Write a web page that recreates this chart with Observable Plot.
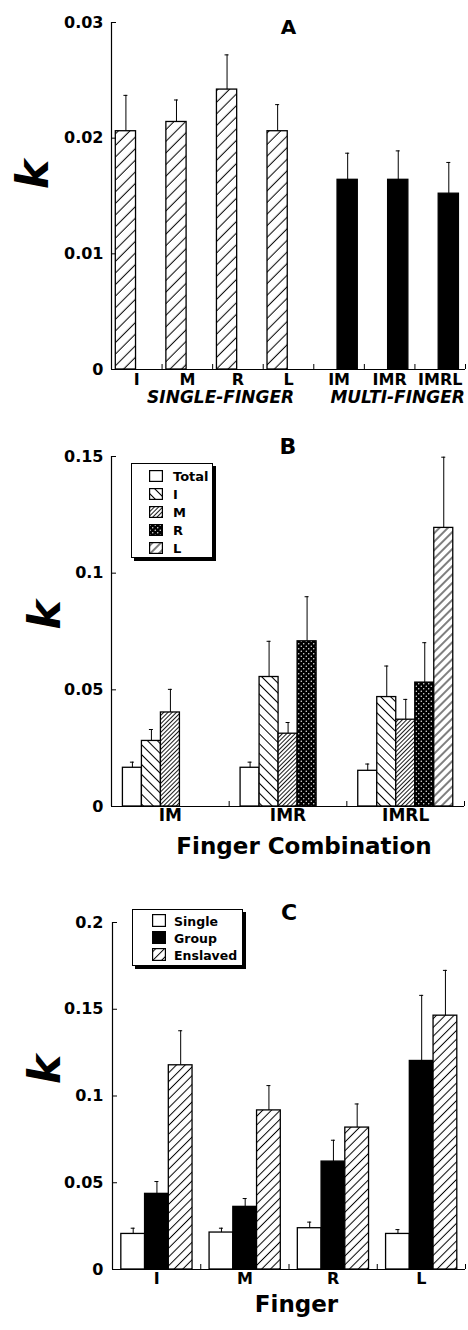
<!DOCTYPE html>
<html>
<head>
<meta charset="utf-8">
<script src="https://cdn.jsdelivr.net/npm/d3@7"></script>
<script src="https://cdn.jsdelivr.net/npm/@observablehq/plot@0.6"></script>
<style>
  html, body { margin: 0; padding: 0; background: #fff; }
  body { width: 468px; height: 1330px; position: relative; overflow: hidden;
         font-family: "DejaVu Sans", "Liberation Sans", sans-serif; }
  .panel { position: absolute; left: 0; }
  .panel svg { overflow: visible; display: block; }
  .legend { position: absolute; box-sizing: border-box; background: #fff; border: 1.3px solid #000;
            box-shadow: 3px 3px 0 #000; overflow: hidden; font-weight: bold; color: #000; }
  .legend svg { position: absolute; overflow: visible; }
  .legend span { position: absolute; line-height: 1; white-space: nowrap; }
</style>
</head>
<body>
<svg width="0" height="0" style="position:absolute;left:0;top:0">
  <defs>
    <pattern id="hatchA" patternUnits="userSpaceOnUse" width="8.2" height="8.2" patternTransform="rotate(45)">
      <rect width="8.2" height="8.2" fill="#fff"/><line x1="4" y1="0" x2="4" y2="8.2" stroke="#000" stroke-width="1"/>
    </pattern>
    <pattern id="hatchBI" patternUnits="userSpaceOnUse" width="7" height="7" patternTransform="rotate(-45)">
      <rect width="7" height="7" fill="#fff"/><line x1="3.5" y1="0" x2="3.5" y2="7" stroke="#000" stroke-width="1"/>
    </pattern>
    <pattern id="hatchBM" patternUnits="userSpaceOnUse" width="3" height="3" patternTransform="rotate(45)">
      <rect width="3" height="3" fill="#fff"/><line x1="1.5" y1="0" x2="1.5" y2="3" stroke="#000" stroke-width="0.9"/>
    </pattern>
    <pattern id="dotsBR" patternUnits="userSpaceOnUse" width="5" height="5">
      <rect width="5" height="5" fill="#000"/>
      <circle cx="1.25" cy="1.25" r="0.7" fill="#fff"/><circle cx="3.75" cy="3.75" r="0.7" fill="#fff"/>
    </pattern>
    <pattern id="hatchBL" patternUnits="userSpaceOnUse" width="6" height="6" patternTransform="rotate(45)">
      <rect width="6" height="6" fill="#fff"/><line x1="3" y1="0" x2="3" y2="6" stroke="#000" stroke-width="1"/>
    </pattern>
    <pattern id="hatchC" patternUnits="userSpaceOnUse" width="6.2" height="6.2" patternTransform="rotate(45)">
      <rect width="6.2" height="6.2" fill="#fff"/><line x1="3.1" y1="0" x2="3.1" y2="6.2" stroke="#000" stroke-width="1"/>
    </pattern>
  </defs>
</svg>

<div class="panel" id="pA" style="top:0px"></div>
<div class="panel" id="pB" style="top:420px"></div>
<div class="panel" id="pC" style="top:860px"></div>

<script>
// ---------------- DATA ----------------
// Panel A
const aCategories = ["I", "M", "R", "L", "IM", "IMR", "IMRL"];
const aKind = ["single", "single", "single", "single", "multi", "multi", "multi"];
const aMeans = [0.0206, 0.0214, 0.0242, 0.0206, 0.0164, 0.0164, 0.0152];
const aSD = [0.0031, 0.0019, 0.0030, 0.0023, 0.0023, 0.0025, 0.0027];
const aGroupLabels = ["SINGLE-FINGER", "MULTI-FINGER"];
const aTicks = [0, 0.01, 0.02, 0.03];
const aTickLabels = ["0", "0.01", "0.02", "0.03"];

// Panel B
const bCombinations = ["IM", "IMR", "IMRL"];
const bSeries = ["Total", "I", "M", "R", "L"];
const bTotal = [0.0166, 0.0166, 0.0153];
const bTotalSD = [0.0024, 0.0024, 0.0029];
const bI = [0.0281, 0.0555, 0.0469];
const bISD = [0.0049, 0.0153, 0.0133];
const bM = [0.0403, 0.0312, 0.0372];
const bMSD = [0.0099, 0.0048, 0.0087];
const bR = [null, 0.0708, 0.0531];
const bRSD = [null, 0.0191, 0.0171];
const bL = [null, null, 0.1194];
const bLSD = [null, null, 0.0303];
const bTicks = [0, 0.05, 0.1, 0.15];
const bTickLabels = ["0", "0.05", "0.1", "0.15"];

// Panel C
const cFingers = ["I", "M", "R", "L"];
const cSeries = ["Single", "Group", "Enslaved"];
const cSingle = [0.0205, 0.0213, 0.0238, 0.0205];
const cSingleSD = [0.0033, 0.0025, 0.0035, 0.0025];
const cGroup = [0.0436, 0.0361, 0.0622, 0.1202];
const cGroupSD = [0.0071, 0.0048, 0.0123, 0.0378];
const cEnslaved = [0.1177, 0.0917, 0.0818, 0.1463];
const cEnslavedSD = [0.0199, 0.0143, 0.0136, 0.0261];
const cTicks = [0, 0.05, 0.1, 0.15, 0.2];
const cTickLabels = ["0", "0.05", "0.1", "0.15", "0.2"];

// ---------------- STYLE ----------------
const FONT = "'DejaVu Sans', 'Liberation Sans', sans-serif";
const baseStyle = {fontFamily: FONT, fontSize: "16px", fontWeight: "bold", background: "transparent", overflow: "visible", color: "#000"};
const bFills = {Total: "#fff", I: "url(#hatchBI)", M: "url(#hatchBM)", R: "url(#dotsBR)", L: "url(#hatchBL)"};
const cFills = {Single: "#fff", Group: "#000", Enslaved: "url(#hatchC)"};

function frameMarks({nx, ticks, tickLabels, innerW, innerH, tickPad}) {
  return [
    Plot.ruleY([0], {stroke: "#000", strokeWidth: 1.2}),
    Plot.ruleX([0], {stroke: "#000", strokeWidth: 1.2}),
    Plot.tickX(d3.range(1, nx + 1), {x: d => d, insetTop: innerH - 5, stroke: "#000", strokeWidth: 1}),
    Plot.tickY(ticks, {y: d => d, insetRight: innerW - 5, stroke: "#000", strokeWidth: 1}),
    Plot.axisY({ticks, tickFormat: d => tickLabels[ticks.indexOf(d)], tickSize: 0, tickPadding: tickPad, label: null, fontSize: 16})
  ];
}
function errorMarks(rows, cx) {
  return [
    Plot.ruleX(rows, {x: cx, y1: "mean", y2: d => d.mean + d.sd, stroke: "#000", strokeWidth: 1}),
    Plot.ruleY(rows, {y: d => d.mean + d.sd, x1: cx, x2: cx, insetLeft: -2, insetRight: -2, stroke: "#000", strokeWidth: 1})
  ];
}

// ---------------- PANEL A ----------------
{
  const rows = aCategories.map((c, i) => ({i, cat: c, kind: aKind[i], mean: aMeans[i], sd: aSD[i]}));
  const W = 0.40;
  const x1 = d => d.i + (d.kind === "single" ? 0.085 : 0.47);
  const cx = d => x1(d) + W / 2;
  const M = {top: 22, bottom: 51, left: 111, right: 3}, H = 420, WID = 468;
  const chart = Plot.plot({
    width: WID, height: H, marginTop: M.top, marginBottom: M.bottom, marginLeft: M.left, marginRight: M.right,
    x: {domain: [0, 7], axis: null}, y: {domain: [0, 0.03], axis: null},
    style: baseStyle,
    marks: [
      Plot.rect(rows.filter(d => d.kind === "single"), {x1, x2: d => x1(d) + W, y1: () => 0, y2: "mean", fill: "url(#hatchA)", stroke: "#000", strokeWidth: 1.3}),
      Plot.rect(rows.filter(d => d.kind === "multi"), {x1, x2: d => x1(d) + W, y1: () => 0, y2: "mean", fill: "#000", stroke: "#000", strokeWidth: 1.3}),
      ...errorMarks(rows, cx),
      ...frameMarks({nx: 7, ticks: aTicks, tickLabels: aTickLabels, innerW: WID - M.left - M.right, innerH: H - M.top - M.bottom, tickPad: 8}),
      Plot.text(aCategories, {x: (d, i) => i + 0.5, text: d => d, frameAnchor: "bottom", dy: 15, fontSize: 16}),
      Plot.text(aGroupLabels, {x: (d, i) => (i === 0 ? 2 : 5.5), text: d => d, frameAnchor: "bottom", dy: 33, dx: 8, fontSize: 17, fontStyle: "italic"}),
      Plot.text(["A"], {text: d => d, frameAnchor: "top", dy: -3, fontSize: 20}),
      Plot.text(["k"], {text: d => d, frameAnchor: "left", dx: -78, dy: -7, rotate: -90, fontSize: 44, fontStyle: "italic"})
    ]
  });
  document.getElementById("pA").appendChild(chart);
}

// ---------------- PANEL B ----------------
{
  const means = {Total: bTotal, I: bI, M: bM, R: bR, L: bL};
  const sds = {Total: bTotalSD, I: bISD, M: bMSD, R: bRSD, L: bLSD};
  const rows = [];
  bCombinations.forEach((g, gi) => bSeries.forEach((s, si) => {
    if (means[s][gi] != null) rows.push({gi, si, series: s, mean: means[s][gi], sd: sds[s][gi]});
  }));
  const W = 0.1615;
  const x1 = d => d.gi + 0.097 + d.si * W;
  const cx = d => x1(d) + W / 2;
  const M = {top: 36, bottom: 54, left: 111, right: 4}, H = 440, WID = 468;
  const chart = Plot.plot({
    width: WID, height: H, marginTop: M.top, marginBottom: M.bottom, marginLeft: M.left, marginRight: M.right,
    x: {domain: [0, 3], axis: null}, y: {domain: [0, 0.15], axis: null},
    style: baseStyle,
    marks: [
      ...bSeries.map(s => Plot.rect(rows.filter(d => d.series === s), {x1, x2: d => x1(d) + W, y1: () => 0, y2: "mean", fill: bFills[s], stroke: "#000", strokeWidth: 1.3})),
      ...errorMarks(rows, cx),
      ...frameMarks({nx: 3, ticks: bTicks, tickLabels: bTickLabels, innerW: WID - M.left - M.right, innerH: H - M.top - M.bottom, tickPad: 8}),
      Plot.text(bCombinations, {x: (d, i) => i + 0.5, text: d => d, frameAnchor: "bottom", dy: 14, fontSize: 17}),
      Plot.text(["Finger Combination"], {text: d => d, frameAnchor: "bottom", dy: 47, dx: 16, fontSize: 23}),
      Plot.text(["B"], {text: d => d, frameAnchor: "top", dy: -18, fontSize: 22}),
      Plot.text(["k"], {text: d => d, frameAnchor: "left", dx: -66, dy: -2, rotate: -90, fontSize: 44, fontStyle: "italic"})
    ]
  });
  document.getElementById("pB").appendChild(chart);
}

// ---------------- PANEL C ----------------
{
  const means = {Single: cSingle, Group: cGroup, Enslaved: cEnslaved};
  const sds = {Single: cSingleSD, Group: cGroupSD, Enslaved: cEnslavedSD};
  const rows = [];
  cFingers.forEach((g, gi) => cSeries.forEach((s, si) => {
    rows.push({gi, si, series: s, mean: means[s][gi], sd: sds[s][gi]});
  }));
  const W = 0.269;
  const x1 = d => d.gi + 0.1 + d.si * W;
  const cx = d => x1(d) + W / 2;
  const M = {top: 62, bottom: 61, left: 112, right: 3}, H = 470, WID = 468;
  const chart = Plot.plot({
    width: WID, height: H, marginTop: M.top, marginBottom: M.bottom, marginLeft: M.left, marginRight: M.right,
    x: {domain: [0, 4], axis: null}, y: {domain: [0, 0.2], axis: null},
    style: baseStyle,
    marks: [
      ...cSeries.map(s => Plot.rect(rows.filter(d => d.series === s), {x1, x2: d => x1(d) + W, y1: () => 0, y2: "mean", fill: cFills[s], stroke: "#000", strokeWidth: 1.3})),
      ...errorMarks(rows, cx),
      ...frameMarks({nx: 4, ticks: cTicks, tickLabels: cTickLabels, innerW: WID - M.left - M.right, innerH: H - M.top - M.bottom, tickPad: 9}),
      Plot.text(cFingers, {x: (d, i) => i + 0.5, text: d => d, frameAnchor: "bottom", dy: 14.5, fontSize: 16}),
      Plot.text(["Finger"], {text: d => d, frameAnchor: "bottom", dy: 42, dx: 7.5, fontSize: 23}),
      Plot.text(["C"], {text: d => d, frameAnchor: "top", dy: -18, fontSize: 22}),
      Plot.text(["k"], {text: d => d, frameAnchor: "left", dx: -67, dy: -12, rotate: -90, fontSize: 44, fontStyle: "italic"})
    ]
  });
  document.getElementById("pC").appendChild(chart);
}

// ---------------- LEGENDS ----------------
function legend({left, top, width, height, items, fills, swX, swW, swH, swTop0, step, textX, textDy, fontSize}) {
  const box = document.createElement("div");
  box.className = "legend";
  Object.assign(box.style, {left: left + "px", top: top + "px", width: width + "px", height: height + "px", fontSize: fontSize + "px"});
  items.forEach((name, i) => {
    const y = swTop0 + i * step;
    const sw = document.createElementNS("http://www.w3.org/2000/svg", "svg");
    sw.setAttribute("width", swW); sw.setAttribute("height", swH);
    sw.style.left = swX + "px"; sw.style.top = y + "px";
    const r = document.createElementNS("http://www.w3.org/2000/svg", "rect");
    r.setAttribute("x", 0.6); r.setAttribute("y", 0.6);
    r.setAttribute("width", swW - 1.2); r.setAttribute("height", swH - 1.2);
    r.setAttribute("fill", fills[name]); r.setAttribute("stroke", "#000"); r.setAttribute("stroke-width", 1.2);
    sw.appendChild(r);
    box.appendChild(sw);
    const t = document.createElement("span");
    t.textContent = name;
    t.style.left = textX + "px";
    t.style.top = (y + swH / 2 - fontSize / 2 + textDy) + "px";
    box.appendChild(t);
  });
  document.body.appendChild(box);
}
legend({left: 131, top: 463, width: 82, height: 95, items: bSeries, fills: bFills,
        swX: 17, swW: 14, swH: 12, swTop0: 6, step: 18, textX: 41, textDy: 0, fontSize: 13});
legend({left: 132, top: 909, width: 111, height: 57, items: cSeries, fills: cFills,
        swX: 19, swW: 14, swH: 13, swTop0: 4, step: 17, textX: 41, textDy: 2, fontSize: 12.5});
</script>
</body>
</html>
